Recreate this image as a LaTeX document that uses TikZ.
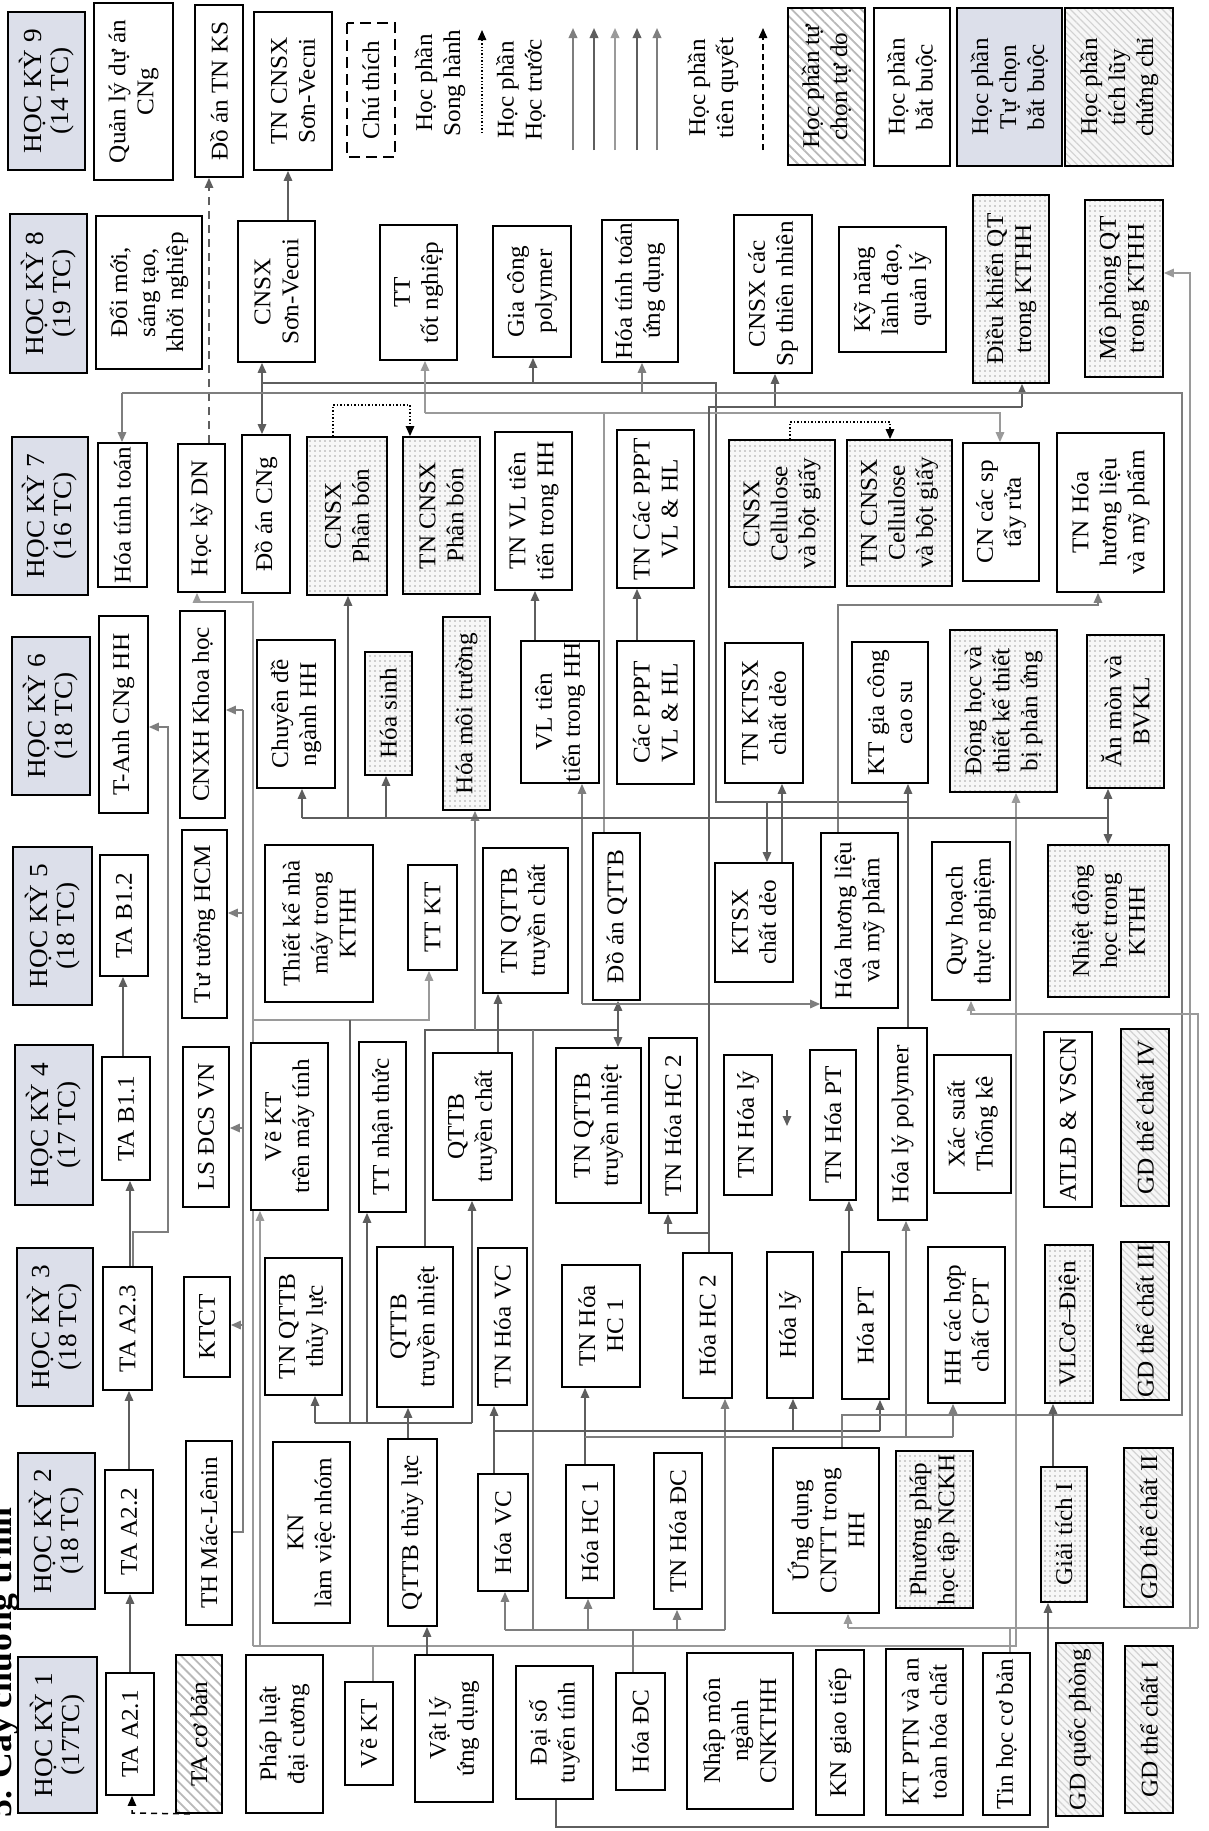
\documentclass[tikz,border=0pt]{standalone}
\usepackage{fontspec}
\setmainfont{Liberation Serif}[FakeStretch=1.05]
\usetikzlibrary{arrows.meta,patterns.meta}
\definecolor{hdrc}{HTML}{DCDFEA}
\definecolor{la}{HTML}{5E5E5E}
\definecolor{lb}{HTML}{7E7E7E}
\definecolor{lc}{HTML}{9A9A9A}
\pgfdeclarelayer{bg}
\pgfsetlayers{bg,main}
\newcommand{\bx}[7][]{\node[box,#1,minimum width={(#5-#3)*1pt},minimum height={(#4-#2)*1pt}] (#6) at ({(#2+#4)/2},{(#3+#5)/2}) {#7};}
\tikzset{
 box/.style={draw=black, line width=1.8pt, fill=white, rotate=90, inner sep=1pt, align=center, font=\fontsize{24}{28}\selectfont},
 hdr/.style={fill=hdrc, font=\fontsize{26}{27}\selectfont},
 dotbox/.style={preaction={fill=gray!6}, pattern={Dots[radius=0.8pt,distance=5pt]}, pattern color=gray!70},
 hatA/.style={preaction={fill=white}, pattern={Lines[angle=-45,distance=7pt,line width=1.8pt]}, pattern color=gray!55},
 hatB/.style={preaction={fill=gray!6}, pattern={Lines[angle=-45,distance=5pt,line width=1.2pt]}, pattern color=gray!35},
 dashbox/.style={dash pattern=on 11pt off 6pt},
 txt/.style={rotate=90, align=center, inner sep=0pt, font=\fontsize{24}{28}\selectfont},
 ln/.style={draw=la, line width=1.6pt},
 arr/.style={-{Triangle[length=10pt,width=8.5pt]}},
 dbl/.style={{Triangle[length=10pt,width=8.5pt]}-{Triangle[length=10pt,width=8.5pt]}},
}
\begin{document}
\begin{tikzpicture}[x=1pt,y=-1pt]
\useasboundingbox (0,0) rectangle (1209,1831);
\begin{pgfonlayer}{bg}
\fill[white] (0,0) rectangle (1209,1831);
\end{pgfonlayer}
% title
\node[rotate=90, anchor=base east, inner sep=0pt, font=\bfseries\fontsize{34}{40}\selectfont] (title) at (12,1507) {5. Cây chương trình};
% headers
\bx[hdr]{8}{12}{85}{170}{h9}{HỌC KỲ 9\\(14 TC)}
\bx[hdr]{10}{214}{87}{373}{h8}{HỌC KỲ 8\\(19 TC)}
\bx[hdr]{12}{437}{88}{595}{h7}{HỌC KỲ 7\\(16 TC)}
\bx[hdr]{12}{637}{90}{795}{h6}{HỌC KỲ 6\\(18 TC)}
\bx[hdr]{13}{847}{92}{1005}{h5}{HỌC KỲ 5\\(18 TC)}
\bx[hdr]{15}{1045}{93}{1205}{h4}{HỌC KỲ 4\\(17 TC)}
\bx[hdr]{17}{1248}{93}{1406}{h3}{HỌC KỲ 3\\(18 TC)}
\bx[hdr]{18}{1453}{95}{1609}{h2}{HỌC KỲ 2\\(18 TC)}
\bx[hdr]{18}{1657}{97}{1813}{h1}{HỌC KỲ 1\\(17TC)}
% HK9 + legend
\bx{94}{3}{173}{180}{qlda}{Quản lý dự án\\CNg}
\bx{195}{5}{243}{177}{datnks}{Đồ án TN KS}
\bx{254}{12}{332}{170}{tncnsxsv}{TN CNSX\\Sơn-Vecni}
\bx[dashbox]{347}{23}{395}{157}{chuthich}{Chú thích}
\node[txt] (lt1) at (440,83) {Học phần\\Song hành};
\node[txt] (lt2) at (521,90) {Học phần\\Học trước};
\node[txt] (lt3) at (713,88) {Học phần\\tiên quyết};
\bx[hatA]{788}{8}{865}{165}{lg1}{Học phần tự\\chọn tự do}
\bx{874}{8}{950}{166}{lg2}{Học phần\\bắt buộc}
\bx[hdr,font=\fontsize{24}{28}\selectfont]{957}{8}{1062}{166}{lg3}{Học phần\\Tự chọn\\bắt buộc}
\bx[hatB]{1065}{8}{1173}{166}{lg4}{Học phần\\tích lũy\\chứng chỉ}
% HK8
\bx{96}{216}{202}{369}{doimoi}{Đổi mới,\\sáng tạo,\\khởi nghiệp}
\bx{238}{221}{315}{362}{cnsxsv}{CNSX\\Sơn-Vecni}
\bx{380}{225}{457}{360}{tttn}{TT\\tốt nghiệp}
\bx{493}{226}{571}{357}{gcpoly}{Gia công\\polymer}
\bx{602}{220}{678}{362}{httud}{Hóa tính toán\\ứng dụng}
\bx{734}{215}{812}{373}{cnsxsptn}{CNSX các\\Sp thiên nhiên}
\bx{839}{227}{946}{352}{knld}{Kỹ năng\\lãnh đạo,\\quản lý}
\bx[dotbox]{973}{195}{1049}{383}{dkqt}{Điều khiển QT\\trong KTHH}
\bx[dotbox]{1085}{200}{1163}{377}{mpqt}{Mô phỏng QT\\trong KTHH}
% HK7
\bx{98}{443}{147}{587}{htt}{Hóa tính toán}
\bx{178}{444}{225}{592}{hkdn}{Học kỳ DN}
\bx{242}{435}{290}{593}{dacng}{Đồ án CNg}
\bx[dotbox]{307}{437}{387}{595}{cnsxpb}{CNSX\\Phân bón}
\bx[dotbox]{403}{437}{480}{594}{tncnsxpb}{TN CNSX\\Phân bón}
\bx{495}{432}{572}{590}{tnvltt}{TN VL tiên\\tiến trong HH}
\bx{617}{430}{694}{588}{tnpppt}{TN Các PPPT\\VL \& HL}
\bx[dotbox]{729}{440}{835}{587}{cnsxcel}{CNSX\\Cellulose\\và bột giấy}
\bx[dotbox]{847}{440}{952}{586}{tncnsxcel}{TN CNSX\\Cellulose\\và bột giấy}
\bx{963}{443}{1039}{581}{cntr}{CN các sp\\tẩy rửa}
\bx{1057}{433}{1164}{592}{tnhhl}{TN Hóa\\hương liệu\\và mỹ phẩm}
% HK6
\bx{99}{616}{148}{813}{tanh}{T-Anh CNg HH}
\bx{180}{611}{225}{818}{cnxh}{CNXH Khoa học}
\bx{257}{640}{335}{788}{cdnhh}{Chuyên đề\\ngành HH}
\bx[dotbox]{365}{652}{412}{775}{hsinh}{Hóa sinh}
\bx[dotbox]{443}{617}{490}{810}{hmt}{Hóa môi trường}
\bx{521}{641}{599}{783}{vltt}{VL tiên\\tiến trong HH}
\bx{617}{641}{694}{784}{pppt}{Các PPPT\\VL \& HL}
\bx{725}{643}{803}{783}{tnktsx}{TN KTSX\\chất dẻo}
\bx{852}{642}{928}{783}{ktgccs}{KT gia công\\cao su}
\bx[dotbox]{950}{630}{1057}{792}{dhtk}{Động học và\\thiết kế thiết\\bị phản ứng}
\bx[dotbox]{1087}{635}{1164}{788}{anmon}{Ăn mòn và\\BVKL}
% HK5
\bx{100}{855}{148}{976}{tab12}{TA B1.2}
\bx{182}{830}{227}{1018}{tthcm}{Tư tưởng HCM}
\bx{265}{845}{373}{1002}{tknm}{Thiết kế nhà\\máy trong\\KTHH}
\bx{408}{865}{457}{970}{ttkt}{TT KT}
\bx{483}{848}{568}{993}{tnqttbtc}{TN QTTB\\truyền chất}
\bx{593}{833}{640}{1000}{daqttb}{Đồ án QTTB}
\bx{715}{863}{793}{982}{ktsx}{KTSX\\chất dẻo}
\bx{821}{833}{898}{1008}{hhlmp}{Hóa hương liệu\\và mỹ phẩm}
\bx{932}{842}{1010}{1000}{qhtn}{Quy hoạch\\thực nghiệm}
\bx[dotbox]{1048}{845}{1169}{997}{ndh}{Nhiệt động\\học trong\\KTHH}
% HK4
\bx{102}{1057}{150}{1180}{tab11}{TA B1.1}
\bx{183}{1047}{229}{1207}{lsdcs}{LS ĐCS VN}
\bx{251}{1043}{328}{1210}{vektmt}{Vẽ KT\\trên máy tính}
\bx{359}{1042}{406}{1212}{ttnt}{TT nhận thức}
\bx{433}{1053}{512}{1200}{qttbtc}{QTTB\\truyền chất}
\bx{556}{1048}{641}{1203}{tnqttbtn}{TN QTTB\\truyền nhiệt}
\bx{649}{1038}{697}{1213}{tnhc2}{TN Hóa HC 2}
\bx{724}{1055}{772}{1195}{tnhl}{TN Hóa lý}
\bx{810}{1050}{856}{1200}{tnhpt}{TN Hóa PT}
\bx{878}{1028}{927}{1220}{hlpoly}{Hóa lý polymer}
\bx{934}{1055}{1011}{1193}{xstk}{Xác suất\\Thống kê}
\bx{1044}{1032}{1092}{1207}{atld}{ATLĐ \& VSCN}
\bx[hatB]{1121}{1029}{1169}{1206}{gdtc4}{GD thể chất IV}
% HK3
\bx{103}{1267}{152}{1390}{taa23}{TA A2.3}
\bx{184}{1277}{230}{1377}{ktct}{KTCT}
\bx{265}{1258}{342}{1395}{tnqttbtl}{TN QTTB\\thủy lực}
\bx{377}{1247}{453}{1407}{qttbtn}{QTTB\\truyền nhiệt}
\bx{478}{1248}{527}{1405}{tnhvc}{TN Hóa VC}
\bx{562}{1265}{640}{1387}{tnhc1}{TN Hóa\\HC 1}
\bx{683}{1253}{732}{1398}{hc2}{Hóa HC 2}
\bx{767}{1252}{813}{1398}{hly}{Hóa lý}
\bx{842}{1252}{889}{1399}{hpt}{Hóa PT}
\bx{928}{1247}{1005}{1403}{hhcpt}{HH các hợp\\chất CPT}
\bx[dotbox]{1045}{1245}{1093}{1403}{vlcd}{VLCơ–Điện}
\bx[hatB]{1121}{1242}{1169}{1400}{gdtc3}{GD thể chất III}
% HK2
\bx{105}{1470}{153}{1593}{taa22}{TA A2.2}
\bx{186}{1441}{232}{1625}{thml}{TH Mác-Lênin}
\bx{273}{1442}{350}{1623}{knlvn}{KN\\làm việc nhóm}
\bx{388}{1439}{437}{1626}{qttbtl}{QTTB thủy lực}
\bx{478}{1474}{528}{1591}{hvc}{Hóa VC}
\bx{566}{1465}{614}{1598}{hhc1}{Hóa HC 1}
\bx{654}{1453}{702}{1609}{tnhdc}{TN Hóa ĐC}
\bx{773}{1448}{879}{1613}{udcntt}{Ứng dụng\\CNTT trong\\HH}
\bx[dotbox]{896}{1451}{973}{1608}{ppht}{Phương pháp\\học tập NCKH}
\bx[dotbox]{1041}{1467}{1087}{1602}{gt1}{Giải tích I}
\bx[hatB]{1124}{1448}{1173}{1607}{gdtc2}{GD thể chất II}
% HK1
\bx{106}{1673}{154}{1795}{taa21}{TA A2.1}
\bx[hatA]{176}{1655}{222}{1813}{tacb}{TA cơ bản}
\bx{246}{1655}{323}{1813}{pldc}{Pháp luật\\đại cương}
\bx{345}{1682}{393}{1785}{vekt}{Vẽ KT}
\bx{415}{1655}{493}{1802}{vlud}{Vật lý\\ứng dụng}
\bx{516}{1666}{593}{1799}{dstt}{Đại số\\tuyến tính}
\bx{616}{1673}{665}{1790}{hdc}{Hóa ĐC}
\bx{687}{1653}{793}{1809}{nmn}{Nhập môn\\ngành\\CNKTHH}
\bx{816}{1650}{864}{1815}{kngt}{KN giao tiếp}
\bx{886}{1649}{963}{1815}{ktptn}{KT PTN và an\\toàn hóa chất}
\bx{983}{1653}{1030}{1815}{thcb}{Tin học cơ bản}
\bx[hatB]{1056}{1643}{1103}{1816}{gdqp}{GD quốc phòng}
\bx[hatB]{1125}{1646}{1173}{1813}{gdtc1}{GD thể chất I}

\begin{pgfonlayer}{bg}
% legend arrows
\coordinate (ls1) at (482,133); \coordinate (le1) at (482,30);
\draw[line width=1.4pt, dotted, arr] (ls1) -- (le1);
\foreach \xx/\cc in {573/lb, 594/la, 615/lc, 637/la, 657/lb} {
  \coordinate (lsa\xx) at (\xx,150); \coordinate (lea\xx) at (\xx,28);
  \draw[ln,draw=\cc,line width=2pt,arr] (lsa\xx) -- (lea\xx);}
\coordinate (ls3) at (763,150); \coordinate (le3) at (763,28);
\draw[line width=1.4pt, dash pattern=on 6pt off 4pt, arr] (ls3) -- (le3);
% HK9/HK8
\draw[draw=la, line width=1.5pt, dash pattern=on 8pt off 6pt, arr] (209,0 |- hkdn.east) -- (209,0 |- datnks.west);
\draw[ln,arr] (288,0 |- cnsxsv.east) -- (288,0 |- tncnsxsv.west);
\draw[ln,dbl] (262,0 |- cnsxsv.west) -- (262,0 |- dacng.east);
\draw[line width=1.5pt, dotted, arr] (333,0 |- cnsxpb.east) -- (333,405) -- (410,405) -- (410,0 |- tncnsxpb.east);
\draw[line width=1.5pt, dotted, arr] (790,0 |- cnsxcel.east) -- (790,422) -- (890,422) -- (890,0 |- tncnsxcel.east);
% TA chain
\draw[ln,arr] (130,0 |- taa21.east) -- (130,0 |- taa22.west);
\draw[ln,arr] (129,0 |- taa22.east) -- (129,0 |- taa23.west);
\draw[ln,arr] (130,0 |- taa23.east) -- (130,0 |- tab11.west);
\draw[ln,arr] (123,0 |- tab11.east) -- (123,0 |- tab12.west);
\draw[draw=black, line width=1.5pt, dash pattern=on 6pt off 5pt, arr] (190,0 |- tacb.west) -- (132,1813) -- (132,0 |- taa21.west);
\draw[ln,draw=lb,arr] (133,0 |- taa23.east) -- (133,1232) -- (168,1232) -- (168,727) -- (tanh.south |- 0,727);
% political courses
\draw[ln,draw=lb] (thml.south |- 0,1532) -- (243,1532) -- (243,710);
\draw[ln,draw=lb,arr] (243,710) -- (cnxh.south |- 0,710);
\draw[ln,draw=lb,arr] (243,913) -- (tthcm.south |- 0,913);
\draw[ln,draw=lb,arr] (243,1128) -- (lsdcs.south |- 0,1128);
\draw[ln,draw=lb,arr] (243,1325) -- (ktct.south |- 0,1325);
% Ve KT
\draw[ln,draw=lc] (373,0 |- vekt.east) -- (373,1646) -- (253,1646);
\draw[ln,draw=lc,arr] (260,1646) -- (260,0 |- vektmt.west);
\draw[ln,draw=lc,arr] (373,1646) -- (1016,1646) -- (1016,0 |- dhtk.west);
\draw[ln,draw=lc,arr] (253,1646) -- (253,602) -- (197,602) -- (197,0 |- hkdn.west);
\draw[ln,draw=lc,arr] (253,1020) -- (429,1020) -- (429,0 |- ttkt.west);
% QTTB thuy luc group
\draw[ln,arr] (408,0 |- qttbtl.east) -- (408,0 |- qttbtn.west);
\draw[ln] (315,1423) -- (472,1423);
\draw[ln,arr] (315,1423) -- (315,0 |- tnqttbtl.west);
\draw[ln,arr] (367,1423) -- (367,0 |- ttnt.west);
\draw[ln,arr] (472,1423) -- (472,0 |- qttbtc.west);
\draw[ln] (350,1423) -- (350,1020);
\draw[ln,arr] (427,0 |- vlud.east) -- (427,0 |- qttbtl.west);
\draw[ln,arr] (498,0 |- qttbtc.east) -- (498,0 |- tnqttbtc.west);
\draw[ln] (425,0 |- qttbtn.east) -- (425,1030) -- (617,1030);
\draw[ln,dbl] (618,0 |- daqttb.west) -- (618,0 |- tnqttbtn.east);
% Hoa DC tree
\draw[ln,draw=lb] (633,0 |- hdc.east) -- (633,1630);
\draw[ln,draw=lb] (505,1630) -- (725,1630);
\draw[ln,draw=lb,arr] (505,1630) -- (505,0 |- hvc.west);
\draw[ln,draw=lb,arr] (588,1630) -- (588,0 |- hhc1.west);
\draw[ln,draw=lb,arr] (677,1630) -- (677,0 |- tnhdc.west);
\draw[ln,draw=lb,arr] (725,1630) -- (725,0 |- hc2.west);
\draw[ln,draw=lb] (533,1630) -- (533,1030);
\draw[ln,draw=lb,arr] (475,1030) -- (475,0 |- hmt.west);
% Hoa VC, Hoa HC1
\draw[ln,arr] (494,0 |- hvc.east) -- (494,0 |- tnhvc.west);
\draw[ln] (494,1431) -- (880,1431);
\draw[ln,arr] (793,1431) -- (793,0 |- hly.west);
\draw[ln,arr] (880,1431) -- (880,0 |- hpt.west);
\draw[ln,arr] (585,0 |- hhc1.east) -- (585,0 |- tnhc1.west);
\draw[ln,draw=lb] (585,1437) -- (953,1437);
\draw[ln,draw=lb,arr] (953,1437) -- (953,0 |- hhcpt.west);
\draw[ln,draw=lb,arr] (906,1437) -- (906,0 |- hlpoly.west);
% Hoa ly polymer
\draw[ln,arr] (908,0 |- hlpoly.east) -- (908,0 |- ktgccs.west);
\draw[ln] (908,802) -- (716,802) -- (716,383) -- (262,383);
\draw[ln,arr] (533,383) -- (533,0 |- gcpoly.west);
\draw[ln,arr] (767,802) -- (767,0 |- ktsx.east);
\draw[ln,arr] (782,0 |- ktsx.east) -- (782,0 |- tnktsx.west);
\draw[ln,arr] (535,0 |- vltt.east) -- (535,0 |- tnvltt.west);
\draw[ln,arr] (637,0 |- pppt.east) -- (637,0 |- tnpppt.west);
\draw[ln,draw=lb,arr] (582,1004) -- (hhlmp.north |- 0,1004);
\draw[ln,draw=lb,arr] (582,1004) -- (582,0 |- vltt.west);
% Do an QTTB
\draw[ln,draw=lc] (604,0 |- daqttb.east) -- (604,413) -- (425,413);
\draw[ln,draw=lc,arr] (425,413) -- (425,0 |- tttn.west);
\draw[ln,draw=lc,arr] (604,413) -- (1000,413) -- (1000,0 |- cntr.east);
% Hoa HC 2
\draw[ln] (709,0 |- hc2.east) -- (709,407) -- (1022,407);
\draw[ln,arr] (709,1233) -- (668,1233) -- (668,0 |- tnhc2.west);
\draw[ln,arr] (1022,407) -- (1022,0 |- dkqt.west);
\draw[ln,arr] (775,407) -- (775,0 |- cnsxsptn.west);
% Ung dung CNTT
\draw[ln,draw=lb] (842,0 |- udcntt.east) -- (842,1415) -- (1182,1415) -- (1182,393) -- (122,393);
\draw[ln,draw=lb,arr] (122,393) -- (122,0 |- htt.east);
\draw[ln,draw=lb,arr] (642,393) -- (642,0 |- httud.west);
% Tin hoc co ban
\draw[ln,draw=lc] (1010,0 |- thcb.east) -- (1010,1628);
\draw[ln,draw=lc] (848,1628) -- (1198,1628);
\draw[ln,draw=lc,arr] (848,1628) -- (848,0 |- udcntt.west);
\draw[ln,draw=lc,arr] (1198,1628) -- (1198,1014) -- (971,1014) -- (971,0 |- qhtn.west);
\draw[ln,draw=lc,arr] (1190,1628) -- (1190,273) -- (mpqt.south |- 0,273);
% misc
\draw[ln,arr] (849,0 |- hpt.east) -- (849,0 |- tnhpt.west);
\coordinate (ta1) at (787,1110); \coordinate (ta2) at (787,1126);
\draw[ln,arr] (ta1) -- (ta2);
\draw[ln,arr] (1053,0 |- gt1.east) -- (1053,0 |- vlcd.west);
\draw[ln,arr] (556,0 |- dstt.west) -- (556,1827) -- (1048,1827) -- (1048,0 |- gt1.west);
\draw[ln,draw=lb,arr] (838,0 |- hhlmp.east) -- (838,605) -- (1098,605) -- (1098,0 |- tnhhl.west);
\draw[ln] (302,818) -- (1108,818);
\draw[ln,arr] (302,818) -- (302,0 |- cdnhh.west);
\draw[ln,arr] (348,818) -- (348,0 |- cnsxpb.west);
\draw[ln,arr] (386,818) -- (386,0 |- hsinh.west);
\draw[ln,dbl] (1108,0 |- anmon.west) -- (1108,0 |- ndh.east);
\end{pgfonlayer}
\end{tikzpicture}
\end{document}
